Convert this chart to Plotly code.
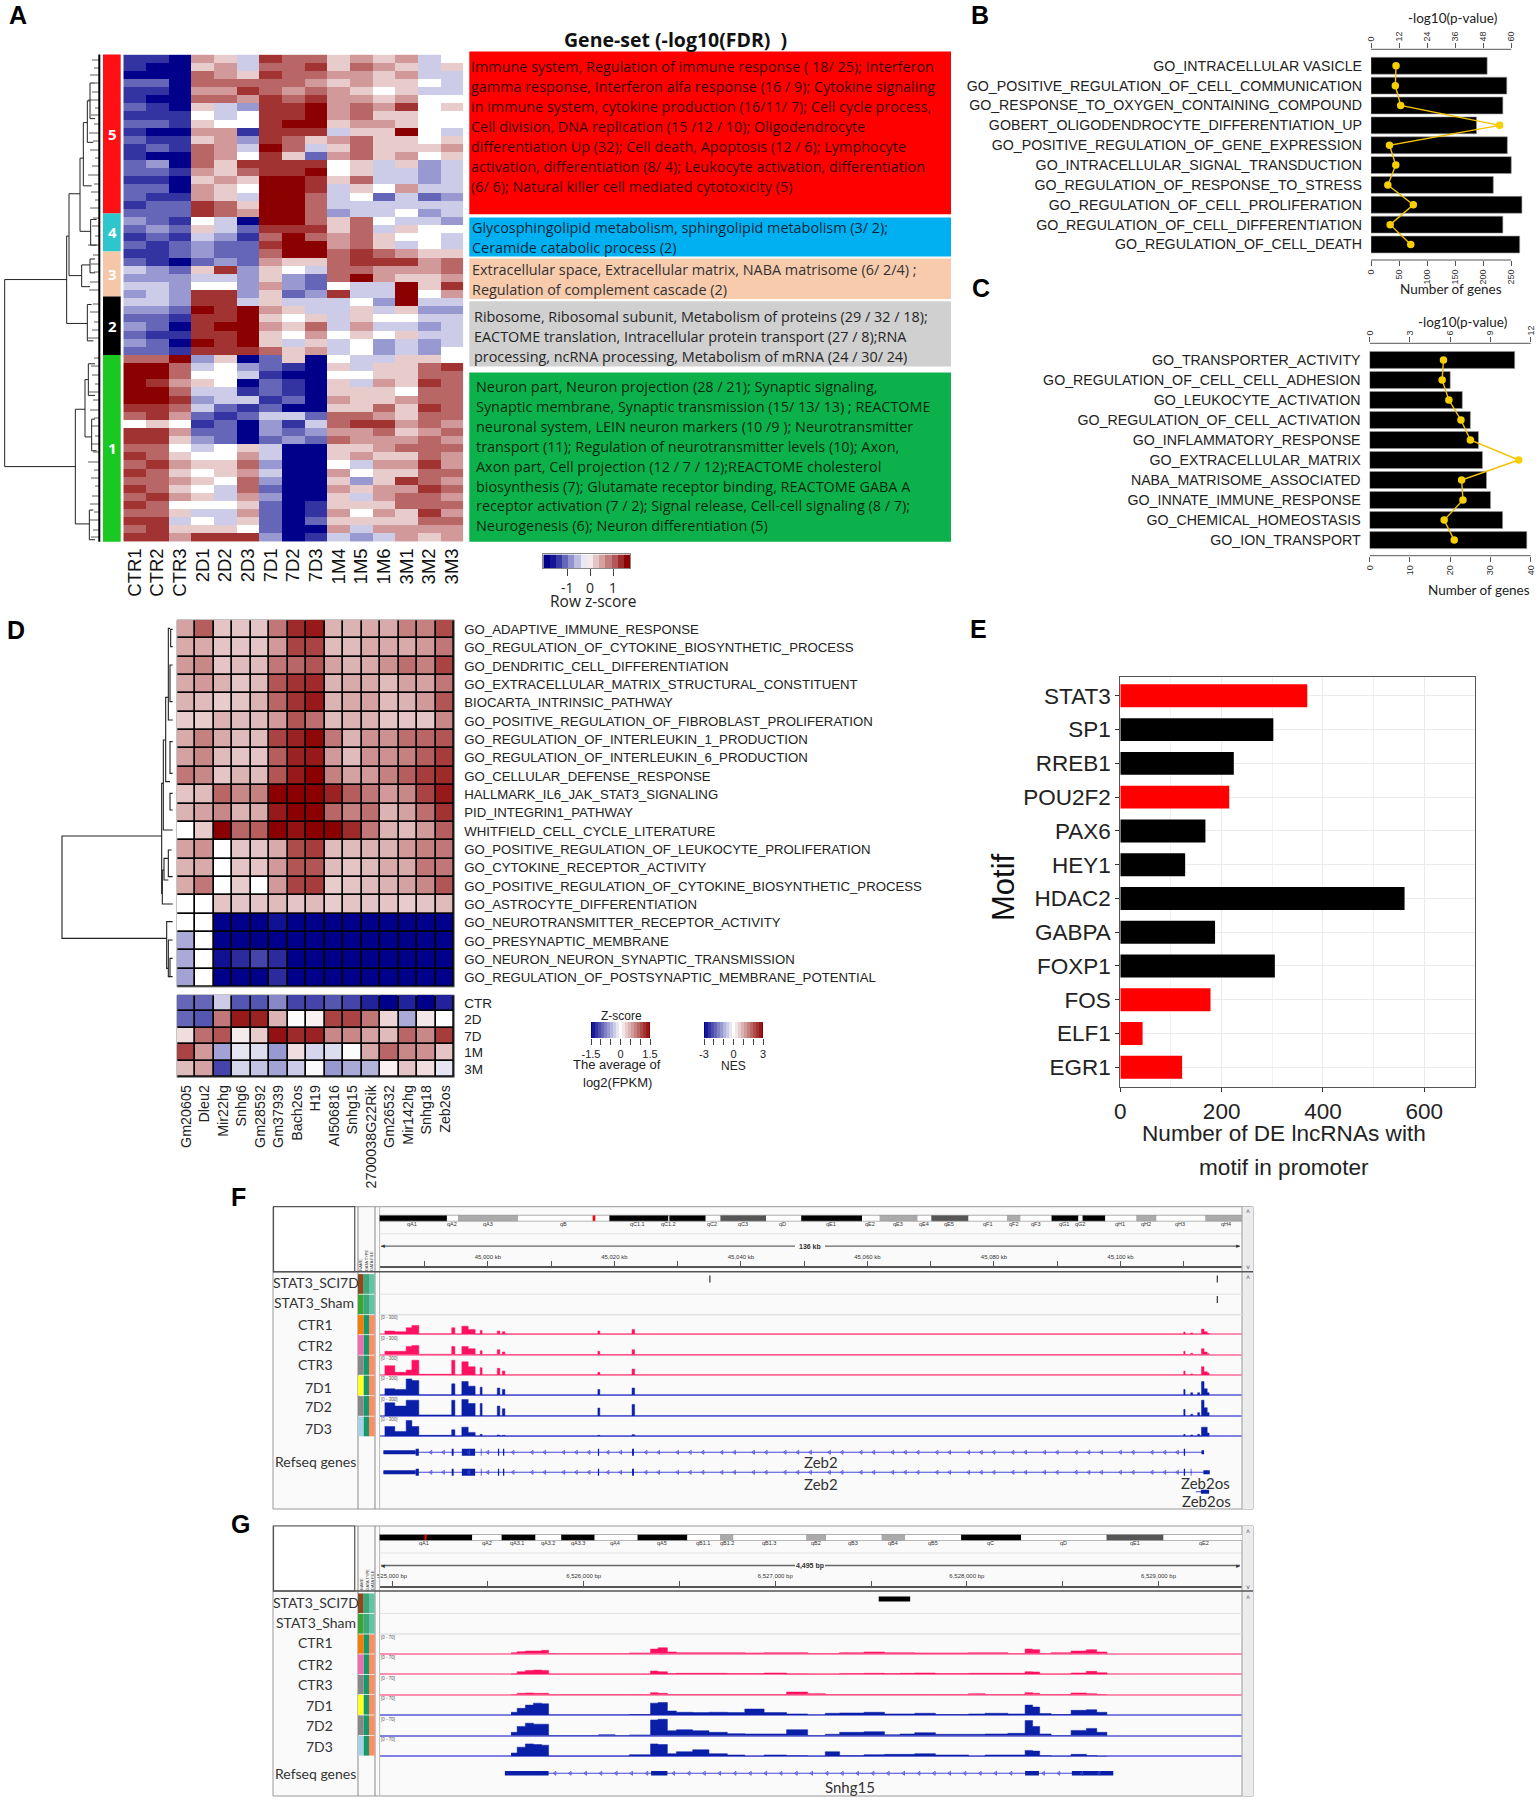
import plotly.graph_objects as go

W, H = 1538, 1800
ARIAL = "Liberation Sans"
NARROW = "Liberation Sans Narrow, Liberation Sans"
OPEN = "Open Sans"
LATO = "Lato"

# ---------- Panel A data ----------
a_cols = ["CTR1","CTR2","CTR3","2D1","2D2","2D3","7D1","7D2","7D3","1M4","1M5","1M6","3M1","3M2","3M3"]
a_z = [
[-4,-4,-5,2,1,-1,4,3,3,1,2,1,2,-1,0],[-4,-5,-5,1,2,-1,3,3,4,1,3,2,1,-1,1],[-5,-5,-5,3,2,1,4,3,3,2,2,1,2,-1,-1],
[-3,-3,-5,3,3,3,3,3,2,1,2,1,1,0,-1],[-4,-4,-5,2,2,4,3,2,3,2,1,0,1,-1,-1],[-4,-5,-5,3,3,2,4,3,4,2,2,1,2,0,0],
[-3,-4,-5,1,-1,-2,4,4,5,2,3,2,4,0,1],[-4,-4,-4,0,-1,0,4,4,5,2,3,1,1,0,0],[-3,-3,-4,1,0,0,4,5,5,1,2,2,1,0,0],
[-4,-5,-5,2,2,-4,4,4,4,-1,1,1,5,0,-1],[-3,-4,-4,1,2,-2,4,3,1,2,3,1,1,0,1],[-4,-3,-4,3,2,-1,5,3,-1,1,3,1,1,1,2],
[-4,-5,-5,3,2,0,4,1,-3,2,3,1,2,0,1],[-3,-2,-5,3,1,4,4,4,4,0,1,-1,1,-2,-1],[-3,-3,-4,2,1,3,4,4,5,0,1,-1,-1,-2,-1],
[-4,-4,-5,1,2,1,5,5,4,1,3,-1,-1,-2,-1],[-3,-3,-5,2,1,0,5,5,4,-1,1,0,2,-1,-1],[-3,-4,-4,2,1,-1,5,5,3,-1,0,-3,-1,-3,-2],
[-4,-3,-3,4,3,1,5,5,3,-1,-1,-1,-1,-1,-1],[-3,-3,-3,4,3,2,5,5,3,-2,-1,-1,0,-2,-1],[-2,-3,-4,0,-1,-5,5,5,3,1,3,0,-1,-1,-2],
[-3,-2,-3,1,-1,-3,4,4,4,1,3,-1,1,0,0],[-4,-3,-4,-1,-2,-4,3,5,3,2,3,1,0,0,-1],[-3,-4,-3,-2,-3,-3,4,5,5,2,3,1,-1,0,-1],
[-4,-4,-3,-2,-3,-3,3,5,5,3,4,3,2,1,1],[-3,-4,-5,-3,-2,-3,2,1,1,3,4,4,4,2,3],[-1,-2,-3,1,4,-2,1,0,-1,3,3,2,2,2,3],
[-2,-2,-2,-1,-1,-2,1,-2,-3,3,5,2,1,1,2],[-1,-1,-2,0,0,-2,2,-2,-3,0,-1,-1,5,1,4],[-2,-1,-2,4,4,-2,1,-3,-2,4,-1,-1,5,0,2],
[-1,-1,-2,4,4,-1,1,-1,-1,-1,0,-2,5,-1,-1],[-2,-2,-3,5,4,5,2,1,-1,-1,1,-1,1,-2,-2],[-3,-3,-4,4,4,5,1,0,1,-1,1,0,0,-1,-1],
[-2,-3,-5,4,5,5,2,1,3,-1,2,-1,-1,-2,-1],[-3,-4,-4,4,4,5,1,0,2,0,1,0,1,-1,-1],[-2,-3,-5,5,4,5,1,-1,1,-1,0,-2,-1,-2,-1],
[-3,-3,-4,4,4,4,3,1,2,-1,0,-2,-1,-2,0],[3,3,5,-2,1,-5,-3,1,-5,0,-1,-1,1,1,0],[5,5,3,-1,0,-2,-3,-4,-5,1,-1,1,1,3,4],
[5,5,3,0,0,-1,-4,-5,-5,0,0,1,1,3,3],[5,4,2,1,0,-5,-3,-4,-5,1,-1,2,1,4,3],[5,5,3,-1,-1,-4,-3,-4,-5,1,1,1,0,3,3],
[5,5,4,-2,-1,-1,-4,-3,-5,2,1,1,2,3,3],[4,4,3,-1,-3,-4,-3,-5,-5,1,1,3,1,4,3],[3,4,2,-3,-4,-3,-1,-1,-3,3,3,2,1,3,3],
[0,1,0,-4,-3,-5,-2,-4,-1,3,4,4,2,3,2],[4,4,2,-3,-3,-5,-2,-3,-2,2,2,3,1,2,3],[4,4,1,-2,-3,-5,-3,-2,-3,3,2,2,2,3,2],
[3,3,0,-1,0,1,-1,-5,-5,1,1,2,3,3,3],[4,3,1,0,0,2,-1,-5,-5,1,2,1,1,3,2],[3,4,2,1,1,3,-2,-5,-5,0,-1,2,2,4,2],
[4,3,1,0,1,2,-1,-5,-5,2,0,1,1,3,3],[3,3,2,1,0,3,-2,-5,-5,1,-2,1,4,3,2],[4,3,1,0,-1,3,-3,-5,-5,2,1,2,2,4,3],
[3,4,2,1,-1,2,-2,-5,-5,1,-1,2,3,3,2],[4,3,0,0,0,1,-3,-5,-4,1,1,1,3,3,3],[3,3,1,-1,-1,2,-3,-5,-4,2,0,2,1,4,2],
[4,4,-1,0,-1,1,-3,-5,-3,1,1,1,1,3,3],[3,4,1,1,1,0,-3,-5,-5,2,-1,2,2,2,2],[4,4,2,4,4,4,-2,-5,-4,-1,-2,-1,2,1,2],
]
a_key = [-2.0,-1.75,-1.5,-1.2,-0.9,-0.6,-0.3,0.0,0.25,0.5,0.75,1.0,1.3,1.6]
a_side_names = ["5","4","3","2","1"]
a_side_colors = ["#ff1015","#2cc6cc","#f6c6a8","#000000","#19c821"]
a_box_colors = ["#ff0000","#00b0f0","#f8cbad","#d0d0d0","#0db14b"]
a_box_text = [
 ["Immune system, Regulation of immune response ( 18/ 25); Interferon","gamma response, Interferon alfa response (16 / 9); Cytokine signaling","in immune system, cytokine production (16/11/ 7); Cell cycle process,","Cell division, DNA replication (15 /12 / 10); Oligodendrocyte","differentiation Up (32); Cell death, Apoptosis (12 / 6); Lymphocyte","activation, differentiation (8/ 4); Leukocyte activation, differentiation","(6/ 6); Natural killer cell mediated cytotoxicity (5)"],
 ["Glycosphingolipid metabolism, sphingolipid metabolism (3/ 2);","Ceramide catabolic process (2)"],
 ["Extracellular space, Extracellular matrix, NABA matrisome (6/ 2/4) ;","Regulation of complement cascade (2)"],
 ["Ribosome, Ribosomal subunit, Metabolism of proteins (29 / 32 / 18);","EACTOME translation, Intracellular protein transport (27 / 8);RNA","processing, ncRNA processing, Metabolism of mRNA (24 / 30/ 24)"],
 ["Neuron part, Neuron projection (28 / 21); Synaptic signaling,","Synaptic membrane, Synaptic transmission (15/ 13/ 13) ; REACTOME","neuronal system, LEIN neuron markers (10 /9 ); Neurotransmitter","transport (11); Regulation of neurotransmitter levels (10); Axon,","Axon part, Cell projection (12 / 7 / 12);REACTOME cholesterol","biosynthesis (7); Glutamate receptor binding, REACTOME GABA A","receptor activation (7 / 2); Signal release, Cell-cell signaling (8 / 7);","Neurogenesis (6); Neuron differentiation (5)"],
]
a_fringe_y = [60,68,75,83,92,100,108,115,124,133,141,150,158,166,175,184,192,200,208,218,226,236,245,255,264,272,282,290,304,312,322,330,338,358,366,375,384,392,400,410,418,426,436,444,452,462,470,478,486,496,504,512,520,530,537]
a_fringe_x = [92,94,90,95,92,88,95,91,94,89,93,90,95,92,88,94,91,95,90,93,92,95,88,93,91,94,90,89,93,90,94,92,88,94,91,92,95,89,93,90,94,92,95,91,93,88,94,91,95,92,90,94,89,93,91]

# ---------- Panels B, C data ----------
b_terms = ["GO_INTRACELLULAR VASICLE","GO_POSITIVE_REGULATION_OF_CELL_COMMUNICATION","GO_RESPONSE_TO_OXYGEN_CONTAINING_COMPOUND","GOBERT_OLIGODENDROCYTE_DIFFERENTIATION_UP","GO_POSITIVE_REGULATION_OF_GENE_EXPRESSION","GO_INTRACELLULAR_SIGNAL_TRANSDUCTION","GO_REGULATION_OF_RESPONSE_TO_STRESS","GO_REGULATION_OF_CELL_PROLIFERATION","GO_REGULATION_OF_CELL_DIFFERENTIATION","GO_REGULATION_OF_CELL_DEATH"]
b_genes = [207,242,235,188,243,250,218,269,235,265]
b_logp = [10.7,10.4,12.7,55,7.9,10.6,7.2,18.1,8.2,17]
b_ticks_bottom = [0,50,100,150,200,250]
b_ticks_top = [0,12,24,36,48,60]
c_terms = ["GO_TRANSPORTER_ACTIVITY","GO_REGULATION_OF_CELL_CELL_ADHESION","GO_LEUKOCYTE_ACTIVATION","GO_REGULATION_OF_CELL_ACTIVATION","GO_INFLAMMATORY_RESPONSE","GO_EXTRACELLULAR_MATRIX","NABA_MATRISOME_ASSOCIATED","GO_INNATE_IMMUNE_RESPONSE","GO_CHEMICAL_HOMEOSTASIS","GO_ION_TRANSPORT"]
c_genes = [36,20,23,25,27,28,29,30,33,39]
c_logp = [5.5,5.4,5.9,6.8,7.5,11.1,6.85,6.95,5.55,6.3]
c_ticks_bottom = [0,10,20,30,40]
c_ticks_top = [0,3,6,9,12]

# ---------- Panel D data ----------
d_genes = ["Gm20605","Dleu2","Mir22hg","Snhg6","Gm28592","Gm37939","Bach2os","H19","AI506816","Snhg15","2700038G22Rik","Gm26532","Mir142hg","Snhg18","Zeb2os"]
d_sets = ["GO_ADAPTIVE_IMMUNE_RESPONSE","GO_REGULATION_OF_CYTOKINE_BIOSYNTHETIC_PROCESS","GO_DENDRITIC_CELL_DIFFERENTIATION","GO_EXTRACELLULAR_MATRIX_STRUCTURAL_CONSTITUENT","BIOCARTA_INTRINSIC_PATHWAY","GO_POSITIVE_REGULATION_OF_FIBROBLAST_PROLIFERATION","GO_REGULATION_OF_INTERLEUKIN_1_PRODUCTION","GO_REGULATION_OF_INTERLEUKIN_6_PRODUCTION","GO_CELLULAR_DEFENSE_RESPONSE","HALLMARK_IL6_JAK_STAT3_SIGNALING","PID_INTEGRIN1_PATHWAY","WHITFIELD_CELL_CYCLE_LITERATURE","GO_POSITIVE_REGULATION_OF_LEUKOCYTE_PROLIFERATION","GO_CYTOKINE_RECEPTOR_ACTIVITY","GO_POSITIVE_REGULATION_OF_CYTOKINE_BIOSYNTHETIC_PROCESS","GO_ASTROCYTE_DIFFERENTIATION","GO_NEUROTRANSMITTER_RECEPTOR_ACTIVITY","GO_PRESYNAPTIC_MEMBRANE","GO_NEURON_NEURON_SYNAPTIC_TRANSMISSION","GO_REGULATION_OF_POSTSYNAPTIC_MEMBRANE_POTENTIAL"]
d_nes = [
[1.1,1.9,0.7,0.7,0.7,1.6,2.5,2.7,0.9,0.9,1.0,1.0,1.5,1.5,2.1],
[1.0,1.0,0.7,0.7,0.7,1.2,2.2,2.2,0.8,0.8,1.0,1.0,1.0,1.2,1.6],
[1.2,1.4,0.7,0.8,0.8,1.6,1.8,2.0,1.1,0.9,1.0,1.3,1.7,1.5,2.2],
[1.0,1.2,0.9,0.7,0.8,2.0,2.4,2.5,0.9,1.0,1.0,0.8,1.1,1.1,1.6],
[0.9,0.8,0.6,0.7,0.9,1.8,2.4,2.7,0.9,1.0,1.1,0.8,0.9,1.2,2.0],
[0.6,0.6,0.9,0.8,0.8,1.2,2.0,1.7,0.8,0.9,0.9,0.7,0.7,0.7,1.4],
[1.0,1.5,1.0,0.8,0.8,2.2,2.6,2.9,1.6,0.9,1.3,1.3,1.7,1.8,2.0],
[1.1,1.4,0.8,0.7,0.7,1.9,2.6,2.7,1.2,0.8,1.3,1.3,1.5,1.9,2.3],
[1.6,1.4,0.7,0.9,0.8,2.0,2.7,3.0,1.5,1.1,1.2,1.5,1.9,2.3,2.5],
[0.7,0.8,1.8,1.4,1.5,3.0,3.0,3.0,2.6,1.9,1.6,1.2,1.4,2.2,2.7],
[0.9,1.1,1.4,0.9,1.0,2.7,3.0,3.0,1.8,1.5,1.7,0.9,1.1,1.7,2.4],
[0,0.6,3,1.8,1.9,3,2.8,3,3,2.5,1.6,0.9,0.8,1.2,1.9],
[1.1,1.3,0,0.7,0.7,1.0,2.1,2.3,0.8,0.8,0.9,0.9,1.2,1.5,1.6],
[0.9,1.0,0,0.7,0.7,1.2,2.0,2.0,0.8,0.7,0.8,1.0,1.0,1.6,1.6],
[1.0,1.6,0,0.6,0,1.2,2.2,2.3,0.6,0.7,0.8,0.9,1.1,1.4,2.0],
[0,0,0.7,0.7,0.7,0.8,0.7,0.8,0.6,0.7,0.7,0.7,0.6,0.7,0.8],
[0,0,-3,-3,-3,-2.8,-3,-3,-3,-3,-3,-3,-3,-3,-3],
[-1,0,-3,-3,-3,-3,-3,-3,-3,-3,-3,-3,-3,-3,-3],
[-1,0,-2.8,-2.5,-2.2,-2.5,-3,-3,-3,-3,-3,-3,-3,-3,-3],
[-1.1,0,-3,-3,-3,-2.5,-3,-3,-3,-3,-3,-3,-3,-3,-3],
]
d_times = ["CTR","2D","7D","1M","3M"]
d_fpkm = [
[-0.9,-0.9,-0.3,-1.0,-1.0,-0.7,-1.1,-1.1,-1.0,-1.1,-1.3,-1.5,-1.3,-1.5,-1.3],
[-0.9,-1.0,0.8,1.35,1.3,0.45,0.02,0.08,1.1,1.1,0.8,0.25,-0.5,0.15,0],
[0.2,0.85,1.0,0.12,0.3,1.4,1.25,1.3,0.7,0.7,0.55,0.4,0.9,0.7,1.15],
[1.1,0.6,-0.55,-0.15,-0.2,-0.6,0.2,-0.25,-0.2,-0.02,0.5,0.9,0.7,0.65,0.35],
[0.4,0.55,-1.1,-0.25,-0.35,-0.55,-0.3,-0.03,-0.6,-0.5,-0.45,0.08,0.35,0.2,-0.15],
]
key_z = [-1.5,-1.35,-1.2,-1.05,-0.9,-0.75,-0.6,-0.45,-0.3,-0.15,0,0.15,0.3,0.45,0.6,0.75,0.9,1.05,1.2,1.35,1.5]
key_ticks = [-1.5,-1,-0.5,0,0.5,1,1.5]
key_labels = ["-1.5","","","0","","","1.5"]
nes_ticks = [-3,-2,-1,0,1,2,3]
nes_labels = ["-3","","","0","","","3"]

# ---------- Panel E data ----------
e_motifs = ["STAT3","SP1","RREB1","POU2F2","PAX6","HEY1","HDAC2","GABPA","FOXP1","FOS","ELF1","EGR1"]
e_counts = [369,302,224,215,168,128,561,187,305,178,44,122]
e_colors = ["#ff0000","#000000","#000000","#ff0000","#000000","#000000","#000000","#000000","#000000","#ff0000","#ff0000","#ff0000"]

# ---------- Panel F data (kb on chr2) ----------
track_names = ["CTR1","CTR2","CTR3","7D1","7D2","7D3"]
track_fill = ["#ff1060","#ff1060","#ff1060","#0a1fa8","#0a1fa8","#0a1fa8"]
track_zero = ["#ff8fb0","#ff8fb0","#ff8fb0","#8080e0","#8080e0","#8080e0"]
f_edges = [44983.7,44985.3,44987.1,44988.0,44989.1,44994.3,44994.8,44995.9,44996.9,44998.0,44998.8,44999.1,45001.5,45001.9,45002.3,45002.7,45017.4,45017.7,45022.8,45023.2,45110.0,45110.2,45111.1,45111.4,45112.2,45112.5,45112.8,45113.2,45113.7,45114.0]
f_tracks = {
"CTR1":[10,8,20,27,1,20,0,25,15,0,12,0,10,0,8,0,10,0,15,0,7,0,4,0,0,0,16,8,3],
"CTR2":[10,10,25,28,1,25,0,25,18,0,12,0,15,0,8,0,10,0,15,0,10,0,4,0,0,0,18,8,3],
"CTR3":[28,8,15,45,2,45,0,40,25,0,22,0,20,0,12,0,8,0,18,0,12,0,3,0,0,0,25,10,6],
"7D1":[20,18,50,45,1,35,0,42,28,0,25,0,22,0,18,0,18,0,22,0,18,0,8,0,8,0,42,20,8],
"7D2":[40,30,48,48,3,48,0,50,38,0,38,0,30,0,22,0,24,0,35,0,20,0,5,0,10,0,48,25,10],
"7D3":[30,15,48,30,3,20,0,28,12,0,6,0,4,0,3,0,3,0,5,0,6,0,4,0,6,0,28,28,10],
}
f_ticks = [44990,45000,45010,45020,45030,45040,45050,45060,45070,45080,45090,45100,45110,45120]
f_ticklabels = ["","45,000 kb","","45,020 kb","","45,040 kb","","45,060 kb","","45,080 kb","","45,100 kb","","45"]
f_stat3_kb = [45035.1,45115.3,45115.3]
f_stat3_row = [1279,1279,1299.5]
f_intron_start = [44983.5,44983.5,45111.9]
f_intron_end = [45113.2,45114.1,45114.0]
f_intron_row = [1452.3,1472.3,1491.7]
f_exon_start = [44983.5,44988.6,44994.3,44995.9,44998.9,45001.6,45002.4,45017.4,45022.8,45110.0,45112.8,44983.5,44988.6,44994.3,44995.9,44998.9,45001.6,45002.4,45017.4,45022.8,45110.0,45111.1,45113.1,45112.7]
f_exon_end = [44988.6,44989.1,44994.6,44998.0,44999.0,45001.8,45002.6,45017.6,45023.1,45110.2,45113.2,44988.6,44989.1,44994.6,44998.0,44999.0,45001.8,45002.6,45017.6,45023.1,45110.2,45111.2,45114.1,45114.0]
f_exon_row = [1452.3]*11 + [1472.3]*12 + [1491.7]
f_exon_h = [4,7,7,7,7,7,7,7,7,7,4,4,7,7,7,7,7,7,7,7,7,7,4,4]
f_marks = [44991,44993,44997,45000,45004,45007,45009,45012,45014,45016,45019,45021,45025,45027,45030,45032,45034,45037,45039,45042,45044,45047,45049,45051,45054,45056,45059,45061,45064,45066,45068,45071,45073,45076,45078,45080,45083,45085,45088,45090,45093,45095,45097,45100,45102,45105,45107,45109]

# ---------- Panel G data (bp on chr11) ----------
g_edges = [6525621,6525653,6525696,6525738,6525781,6525817,6526079,6526164,6526239,6526349,6526388,6526437,6526484,6526569,6526654,6526750,6526841,6526942,6527059,6527169,6527261,6527336,6527463,6527570,6527651,6527728,6527836,6528009,6528095,6528214,6528304,6528343,6528380,6528440,6528544,6528624,6528678,6528731]
g_tracks = {
"CTR1":[3,6,8,8,10,0,0,0,2,14,18,5,3,3,3,3,2,3,3,0,0,3,5,3,3,2,2,3,3,0,14,12,0,3,8,12,5],
"CTR2":[1,8,12,13,12,0,0,0,0,10,8,2,3,3,3,2,2,4,1,0,0,2,3,2,3,4,2,3,3,3,8,7,0,0,4,9,5],
"CTR3":[0,4,5,4,4,0,0,0,0,6,4,0,0,0,0,0,0,0,8,3,0,0,0,0,0,0,0,3,0,0,6,4,0,0,5,3,0],
"7D1":[8,20,30,36,34,0,0,0,1,36,38,12,8,7,8,7,18,7,3,0,5,6,8,3,3,5,1,3,5,3,30,24,4,1,14,16,8],
"7D2":[10,28,38,35,35,0,3,0,2,48,50,15,18,15,10,6,5,5,18,0,4,10,12,3,5,9,4,4,5,7,46,28,5,0,16,22,10],
"7D3":[10,28,38,36,34,0,0,0,5,38,36,8,14,20,8,4,0,4,2,0,14,2,5,6,6,8,4,0,4,4,18,16,2,0,6,2,0],
}
g_ticks = [6525000,6525500,6526000,6526500,6527000,6527500,6528000,6528500,6529000]
g_ticklabels = ["525,000 bp","","6,526,000 bp","","6,527,000 bp","","6,528,000 bp","","6,529,000 bp"]
g_exon_start = [6525589,6526352,6528304,6528548]
g_exon_end = [6525817,6526437,6528376,6528764]
g_marks = [6525850,6525930,6526010,6526090,6526170,6526250,6526330,6526470,6526550,6526630,6526710,6526790,6526870,6526950,6527030,6527110,6527190,6527270,6527350,6527430,6527510,6527590,6527670,6527750,6527830,6527910,6527990,6528070,6528150,6528230,6528400,6528480,6528600,6528690]

# ---------- chrome lists ----------
f_bands_l = [(293,458,"#000"),(458,485,"#fff"),(485,632,"#aaa"),(632,815,"#fff"),(815,822,"#f00"),(822,856,"#fff"),(856,1000,"#000"),(1003,1092,"#000"),(1092,1128,"#fff"),(1128,1240,"#555"),(1240,1326,"#fff"),(1326,1475,"#000"),(1475,1518,"#fff"),(1518,1568,"#aaa")]
f_bands_r = [(-4,67,"#aaa"),(67,100,"#fff"),(100,190,"#555"),(190,283,"#fff"),(283,316,"#aaa"),(316,391,"#fff"),(391,456,"#000"),(456,466,"#fff"),(466,521,"#000"),(521,596,"#fff"),(596,645,"#aaa"),(645,763,"#fff"),(763,852,"#aaa")]
f_blabels_l = [("qA1",372),("qA2",470),("qA3",558),("qB",743),("qC1.1",925),("qC1.2",1000),("qC2",1108),("qC3",1183),("qD",1280),("qE1",1398),("qE2",1495)]
f_blabels_r = [("qE3",20),("qE4",82),("qE5",143),("qF1",235),("qF2",298),("qF3",352),("qG1",422),("qG2",460),("qH1",557),("qH2",620),("qH3",703),("qH4",812)]
g_bands_l = [(293,520,"#000"),(403,408,"#f00"),(520,592,"#fff"),(592,675,"#000"),(675,738,"#fff"),(738,820,"#000"),(820,925,"#fff"),(925,1047,"#000"),(1047,1127,"#fff"),(1127,1160,"#aaa"),(1160,1338,"#fff"),(1338,1387,"#aaa"),(1387,1523,"#fff"),(1523,1568,"#aaa")]
g_bands_r = [(-4,37,"#aaa"),(37,172,"#fff"),(172,317,"#000"),(317,524,"#fff"),(524,662,"#555"),(662,852,"#fff")]
g_blabels_l = [("qA1",403),("qA2",555),("qA3.1",630),("qA3.2",705),("qA3.3",778),("qA4",870),("qA5",985),("qB1.1",1086),("qB1.2",1143),("qB1.3",1247),("qB2",1361),("qB3",1453),("qB4",1550)]
g_blabels_r = [("qB5",103),("qC",243),("qD",419),("qE1",592),("qE2",760)]
col1_colors = ["#8a4a20","#3aa535","#f57c00","#f06ab0","#888888","#ffff20","#888888","#a8cfe8"]

# ---------- helpers ----------
layout = dict(width=W, height=H, margin=dict(l=0, r=0, t=0, b=0), paper_bgcolor="white", template="none",
              plot_bgcolor="rgba(0,0,0,0)", showlegend=False, font=dict(family=ARIAL, color="#222"))
traces, shapes, annos = [], [], []
_n = [1]

def new_axes(xr, yr, xa=None, ya=None):
    _n[0] += 1
    n = _n[0]
    x = dict(domain=[xr[0]/W, xr[1]/W], anchor=f"y{n}", showgrid=False, zeroline=False, automargin=False)
    y = dict(domain=[1-yr[1]/H, 1-yr[0]/H], anchor=f"x{n}", showgrid=False, zeroline=False, automargin=False)
    x.update(xa or {}); y.update(ya or {})
    layout[f"xaxis{n}"] = x
    layout[f"yaxis{n}"] = y
    return f"x{n}", f"y{n}"

def text(x, y, s, size=12, family=ARIAL, color="#222", anchor="center", angle=0, bold=False):
    annos.append(dict(x=x/W, y=1-y/H, xref="paper", yref="paper", text=f"<b>{s}</b>" if bold else s, showarrow=False,
                      font=dict(size=size, family=family, color=color), xanchor=anchor, yanchor="middle",
                      textangle=angle, borderpad=0, borderwidth=0))

def rect(x0, y0, x1, y1, fill=None, line=None, lw=1, layer="above"):
    shapes.append(dict(type="rect", xref="paper", yref="paper", x0=x0/W, x1=x1/W, y0=1-y0/H, y1=1-y1/H,
                       fillcolor=fill or "rgba(0,0,0,0)", line=dict(color=line or "rgba(0,0,0,0)", width=lw if line else 0), layer=layer))

def hline(x0, x1, y, color="#888", lw=1, layer="above"):
    shapes.append(dict(type="line", xref="paper", yref="paper", x0=x0/W, x1=x1/W, y0=1-y/H, y1=1-y/H, line=dict(color=color, width=lw), layer=layer))

def vline(x, y0, y1, color="#888", lw=1, layer="above"):
    shapes.append(dict(type="line", xref="paper", yref="paper", x0=x/W, x1=x/W, y0=1-y0/H, y1=1-y1/H, line=dict(color=color, width=lw), layer=layer))

layout["xaxis"] = dict(domain=[0, 1], range=[0, W], visible=False, fixedrange=True)
layout["yaxis"] = dict(domain=[0, 1], range=[H, 0], visible=False, fixedrange=True)

def dendro(nodes, fx, fy, lw=1.0, color="#222"):
    xs, ys = [], []
    for x, yt, yb, xt, xb in nodes:
        xs += [fx(xt), fx(x), fx(x), fx(xb), None]
        ys += [fy(yt), fy(yt), fy(yb), fy(yb), None]
    traces.append(go.Scatter(x=xs, y=ys, mode="lines", line=dict(color=color, width=lw), xaxis="x", yaxis="y", hoverinfo="skip"))

BWR = [[0, "#00008b"], [0.5, "#ffffff"], [1, "#8b0000"]]

# ---------- panel letters ----------
for s, x, y in [("A",18,15),("B",980,15),("C",981,288),("D",16,630),("E",978,629),("F",238,1197),("G",240,1524)]:
    text(x, y, s, size=25, bold=True, color="#000")

# ---------- A ----------
xa, ya = new_axes((123.3, 463.3), (54.6, 541.7),
    dict(type="category", categoryorder="array", categoryarray=a_cols, tickmode="array", tickvals=a_cols, ticktext=a_cols, tickangle=-90, ticks="", ticklabelstandoff=2,
         tickfont=dict(size=18.5, family=ARIAL, color="#111")),
    dict(range=[len(a_z)-0.5, -0.5], showticklabels=False, ticks=""))
traces.append(go.Heatmap(z=a_z, x=a_cols, y=list(range(len(a_z))), colorscale=BWR, zmin=-5, zmax=5, showscale=False, xaxis=xa, yaxis=ya, hoverinfo="skip"))
side_edges = [54.6, 213.5, 251.5, 296.6, 355, 541.7]
for i, nm in enumerate(a_side_names):
    rect(103, side_edges[i], 120.7, side_edges[i+1], fill=a_side_colors[i])
    text(112, (side_edges[i]+side_edges[i+1])/2, nm, size=15, color="#fff", bold=True, family=OPEN)
box_edges = [(51.4,214.3),(217.5,256.6),(258.6,299),(301.3,366.5),(372.5,541.7)]
box_text_y = [66.4, 227.8, 269.7, 316.3, 386.3]
box_text_x = [471, 471.7, 471.7, 473.7, 476.3]
box_text_c = ["rgba(50,0,0,0.98)", "rgba(0,25,45,0.95)", "#333333", "#262626", "rgba(0,35,12,0.98)"]
for i, lines in enumerate(a_box_text):
    rect(469.3, box_edges[i][0], 951, box_edges[i][1], fill=a_box_colors[i], layer="below")
    for j, ln in enumerate(lines):
        text(box_text_x[i], box_text_y[i] + j*19.95, ln, size=14.4, family=OPEN, color=box_text_c[i], anchor="left")
text(675, 39.5, "Gene-set (-log10(FDR)  )", size=19.5, family=OPEN, color="#111", bold=True)
dendro([(14,707,1180,200,226),(200,597,818,207,262),(207,490,697,240,245),(240,400,585,250,272),(250,310,470,262,275),
        (262,255,360,270,280),(270,210,300,285,285),(272,555,620,290,290),(245,670,725,270,270),(270,655,690,285,285),
        (262,770,862,275,280),(226,1035,1325,255,268),(255,960,1105,265,275),(265,920,1000,285,285),(275,1060,1140,285,290),
        (268,1290,1365,280,285)], lambda v: v/3, lambda v: v/2.529, lw=1.0)
fx, fy = [], []
for yy, xx in zip(a_fringe_y, a_fringe_x):
    fx += [xx, 99.5, None]; fy += [yy, yy, None]
traces.append(go.Scatter(x=fx, y=fy, mode="lines", line=dict(color="#333", width=0.8), xaxis="x", yaxis="y", hoverinfo="skip"))
vline(99.3, 54.6, 541.7, color="#000", lw=2)
# key
xa, ya = new_axes((543.3, 630), (554.4, 568),
    dict(range=[-2.04, 1.74], tickvals=[-1,0,1], ticktext=["-1","0","1"], ticks="outside", ticklen=7, tickcolor="#444",
         tickfont=dict(size=14, family=OPEN, color="#222"), showline=True, linecolor="#888", mirror=True),
    dict(showticklabels=False, ticks="", showline=True, linecolor="#888", mirror=True))
traces.append(go.Heatmap(z=[a_key], x=[-1.905,-1.635,-1.365,-1.095,-0.825,-0.555,-0.285,-0.015,0.255,0.525,0.795,1.065,1.335,1.605], y=[0],
                         colorscale=BWR, zmin=-1.9, zmax=1.6, showscale=False, xaxis=xa, yaxis=ya, hoverinfo="skip"))
text(593, 601, "Row z-score", size=15.5, family=OPEN, color="#222")

# ---------- B, C ----------
def go_panel(terms, genes, logp, xdom, ydom, xmax, topmax, tbot, ttop, standoff_x):
    xa, ya = new_axes(xdom, ydom,
        dict(range=[0, xmax], tickvals=tbot, ticks="outside", ticklen=5, tickcolor="#555", tickangle=-90,
             tickfont=dict(size=9, family=ARIAL, color="#333")),
        dict(type="category", categoryorder="array", categoryarray=terms, range=[9.78, -0.83], ticks="", ticklabelstandoff=standoff_x,
             tickfont=dict(size=14.2, family=ARIAL, color="#222")))
    n = _n[0]
    _n[0] += 1
    m = _n[0]
    layout[f"xaxis{m}"] = dict(domain=[xdom[0]/W, xdom[1]/W], overlaying=f"x{n}", anchor=ya, side="top", range=[0, topmax], tickvals=ttop,
                               ticks="outside", ticklen=5, tickcolor="#555", tickangle=-90, showgrid=False, zeroline=False, automargin=False,
                               tickfont=dict(size=9, family=ARIAL, color="#333"))
    traces.append(go.Bar(x=genes, y=terms, orientation="h", width=0.85, marker=dict(color="#000", line=dict(color="#999", width=0.6)), xaxis=xa, yaxis=ya, hoverinfo="skip"))
    traces.append(go.Scatter(x=logp, y=terms, mode="lines+markers", line=dict(color="#f2c200", width=1.4), marker=dict(color="#f7cf00", size=7.5), xaxis=f"x{m}", yaxis=ya, hoverinfo="skip"))
    for v, yv in [(tbot[-1], 0), (ttop[-1], 1)]:
        ref = xa if yv == 0 else f"x{m}"
        shapes.append(dict(type="line", xref=ref, x0=0, x1=v, yref=f"{ya} domain", y0=yv, y1=yv, line=dict(color="#555", width=1)))

go_panel(b_terms, b_genes, b_logp, (1371, 1530), (49.3, 260), 283.4, 68.0, b_ticks_bottom, b_ticks_top, 8)
text(1452, 18.3, "-log10(p-value)", size=13.5, family=LATO)
text(1450.6, 289, "Number of genes", size=13.5, family=LATO)
go_panel(c_terms, c_genes, c_logp, (1369.6, 1530.8), (343.3, 555.7), 40, 12, c_ticks_bottom, c_ticks_top, 8)
text(1462.6, 321.7, "-log10(p-value)", size=13.5, family=LATO)
text(1478.7, 590, "Number of genes", size=13.5, family=LATO)

# ---------- D ----------
xa, ya = new_axes((177, 454.3), (620, 987),
    dict(showticklabels=False, ticks="", range=[-0.5, 14.5]),
    dict(side="right", range=[19.5, -0.5], tickvals=list(range(20)), ticktext=d_sets, ticks="", ticklabelstandoff=9,
         tickfont=dict(size=13.2, family=ARIAL, color="#222")))
rect(177, 620, 454.3, 987, fill="#000", line="#888", lw=1, layer="below")
traces.append(go.Heatmap(z=d_nes, x=list(range(15)), y=list(range(20)), colorscale=BWR, zmin=-3, zmax=3, xgap=1.7, ygap=1.7, showscale=False, xaxis=xa, yaxis=ya, hoverinfo="skip"))
xa, ya = new_axes((177, 454.3), (995, 1077.3),
    dict(type="category", categoryorder="array", categoryarray=d_genes, tickmode="array", tickvals=d_genes, ticktext=d_genes, tickangle=-90, ticks="", ticklabelstandoff=4,
         tickfont=dict(size=14.3, family=ARIAL, color="#222")),
    dict(side="right", range=[4.5, -0.5], tickvals=list(range(5)), ticktext=d_times, ticks="", ticklabelstandoff=9,
         tickfont=dict(size=13.5, family=NARROW, color="#222")))
rect(177, 995, 454.3, 1077.3, fill="#000", line="#888", lw=1, layer="below")
traces.append(go.Heatmap(z=d_fpkm, x=d_genes, y=list(range(5)), colorscale=BWR, zmin=-1.5, zmax=1.5, xgap=1.7, ygap=1.7, showscale=False, xaxis=xa, yaxis=ya, hoverinfo="skip"))
dendro([(186,678,985,485,500),(485,520,850,490,487),(487,780,882,492,518),(492,745,810,505,505),(505,720,800,515,518),
        (490,390,660,497,518),(497,262,515,505,510),(505,55,330,510,518),(510,395,490,518,518),(510,550,600,518,518),
        (512,58,110,518,518),(510,165,275,518,518),(500,935,1075,518,505),(505,990,1100,518,510),(510,1045,1100,518,518)],
       lambda v: v/3, lambda v: 610+v/3, lw=1.1, color="#222")
# keys
xa, ya = new_axes((591, 650), (1022, 1038),
    dict(range=[-1.5, 1.5], tickvals=key_ticks, ticktext=key_labels, ticks="outside", ticklen=6, tickcolor="#444", tickfont=dict(size=11, family=NARROW)),
    dict(showticklabels=False, ticks=""))
traces.append(go.Heatmap(z=[key_z], x=key_z, y=[0], colorscale=BWR, zmin=-1.5, zmax=1.5, showscale=False, xaxis=xa, yaxis=ya, hoverinfo="skip"))
xa, ya = new_axes((704, 763), (1022, 1038),
    dict(range=[-3, 3], tickvals=nes_ticks, ticktext=nes_labels, ticks="outside", ticklen=6, tickcolor="#444", tickfont=dict(size=11, family=NARROW)),
    dict(showticklabels=False, ticks=""))
traces.append(go.Heatmap(z=[key_z], x=[v*2 for v in key_z], y=[0], colorscale=BWR, zmin=-1.5, zmax=1.5, showscale=False, xaxis=xa, yaxis=ya, hoverinfo="skip"))
text(621, 1016, "Z-score", size=12, family=NARROW)
text(617, 1064, "The average of", size=13, family=NARROW)
text(617, 1082, "log2(FPKM)", size=13, family=NARROW)
text(733, 1066, "NES", size=12, family=NARROW)

# ---------- E ----------
xa, ya = new_axes((1120.3, 1475), (676.6, 1086.5),
    dict(range=[0, 700], tickvals=[0,200,400,600], ticks="outside", ticklen=4, tickcolor="#333", showgrid=True, gridcolor="#ebebeb", gridwidth=1.2,
         minor=dict(tickvals=[100,300,500,700], showgrid=True, gridcolor="#f2f2f2", gridwidth=0.8, ticks=""),
         tickfont=dict(size=22.5, family=ARIAL, color="#222"), showline=True, linecolor="#555", mirror=True),
    dict(type="category", categoryorder="array", categoryarray=e_motifs, tickmode="array", tickvals=e_motifs, ticktext=e_motifs, range=[11.57, -0.57], ticks="outside", ticklen=4, tickcolor="#333",
         showgrid=True, gridcolor="#ebebeb", gridwidth=1.2, tickfont=dict(size=22.5, family=ARIAL, color="#222"), showline=True, linecolor="#555", mirror=True))
traces.append(go.Bar(x=e_counts, y=e_motifs, orientation="h", width=0.68, marker=dict(color=e_colors, line=dict(width=0)), xaxis=xa, yaxis=ya, hoverinfo="skip"))
text(1003.5, 887.5, "Motif", size=31, angle=-90, color="#111")
text(1283.6, 1133.5, "Number of DE lncRNAs with", size=22.6, color="#222")
text(1284, 1167.5, "motif in promoter", size=22.6, color="#222")

# ---------- F, G (genome browser) ----------
def igv_frame(top, bottom, bands_l, bands_r, labels_l, labels_r, span, baselines, row_labels, scale):
    rect(273, top, 1253, bottom, fill="#fafafa", line="#999", lw=1, layer="below")
    rect(273.5, top, 354.7, top+65, fill="#ffffff", line="#555", lw=1.2, layer="below")
    vline(358, top, bottom, "#888"); vline(375, top, bottom, "#888"); vline(379.6, top, bottom, "#bbb")
    hline(379.6, 1242, top+9, "#999"); hline(379.6, 1242, top+27, "#e4e4e4")
    vline(1242, top, bottom, "#aaa", 1.2)
    rect(1242, top, 1253, bottom, fill="#ececec", layer="below")
    for a, b, c in bands_l:
        rect(max(260+a/2.45, 379.6), top+8.5, 260+b/2.45, top+14.5, fill=c)
    for a, b, c in bands_r:
        rect(890+a/2.42, top+8.5, 890+b/2.42, top+14.5, fill=c)
    hline(379.6, 1242, top+8.5, "#999", 0.7); hline(379.6, 1242, top+14.5, "#999", 0.7)
    for s, z in labels_l:
        text(260+z/2.45, top+17, s, size=5.5, color="#333", family=NARROW)
    for s, z in labels_r:
        text(890+z/2.42, top+17, s, size=5.5, color="#333", family=NARROW)
    hline(381, 795, top+39.5, "#666", 1.3); hline(825, 1240, top+39.5, "#666", 1.3)
    text(810, top+39.5, span, size=7, bold=True, color="#333")
    text(383, top+39.5, "◄", size=6, color="#333"); text(1238, top+39.5, "►", size=6, color="#333")
    hline(273, 1253, top+65, "#555", 1.6)
    row_tops = [top+67, top+87.5, top+108, top+128, top+148.5, top+168.5, top+189, top+209.5, top+230]
    for i in range(8):
        rect(358, row_tops[i]+0.4, 363.7, row_tops[i+1]-0.4, fill=col1_colors[i])
        rect(363.7, row_tops[i]+0.4, 369, row_tops[i+1]-0.4, fill="#3aa878" if i < 2 else "#16996a")
        rect(369, row_tops[i]+0.4, 374.7, row_tops[i+1]-0.4, fill="#66c2a5" if i < 2 else "#fc8d62")
    hline(379.6, 1242, row_tops[1], "#e2e2e6"); hline(379.6, 1242, row_tops[2], "#e2e2e6", 1.4)
    for s, xx, yy in [("NAME",361,top+58),("DATA TYPE",366.5,top+54),("DATA FILE",372,top+54)]:
        text(xx, yy, s, size=4, angle=-90, color="#444")
    for s, yy in [("˄",top+5),("˅",top+61),("˄",top+71)]:
        text(1247.5, yy, s, size=7, color="#555")
    for b in baselines:
        text(381, b-17, scale, size=4.5, color="#555", anchor="left")
    for s, xx, yy in row_labels:
        text(xx, yy, s, size=14, family=LATO, color="#333")

f_labels = [("STAT3_SCI7D",315.5,1282),("STAT3_Sham",314,1302.7),("CTR1",315,1324),("CTR2",315,1345),("CTR3",315,1364),("7D1",318,1387),("7D2",318,1406),("7D3",318,1428.7),("Refseq genes",315.5,1461)]
f_base = [1334.7,1355,1375.3,1395.7,1416.3,1436.7]
f_range = [44982.9, 45119.2]
igv_frame(1206.7, 1509, f_bands_l, f_bands_r, f_blabels_l, f_blabels_r, "136 kb", f_base, f_labels, "[0 - 300]")
g_labels = [("STAT3_SCI7D",315.5,1602.5),("STAT3_Sham",316,1622.7),("CTR1",315,1642.5),("CTR2",315,1664),("CTR3",315,1684),("7D1",319,1705),("7D2",319,1725),("7D3",319,1746.5),("Refseq genes",315.5,1773)]
g_base = [1654,1674.7,1695,1715.3,1736,1756.7]
g_range = [6524935, 6529436]
igv_frame(1526, 1796, g_bands_l, g_bands_r, g_blabels_l, g_blabels_r, "4,495 bp", g_base, g_labels, "[0 - 70]")

def igv_tracks(rng, ticks, ticklabels, ruler_y, baselines, edges, tracks, row_range):
    _n[0] += 1
    xn = _n[0]
    xid = f"x{xn}"
    layout[f"xaxis{xn}"] = dict(domain=[379.6/W, 1242/W], range=rng, anchor="free", position=1-ruler_y/H, side="top", automargin=False,
        tickvals=ticks, ticktext=ticklabels, ticks="outside", ticklen=5, tickcolor="#555", showline=True, linecolor="#555", linewidth=1.6,
        showgrid=False, zeroline=False, tickangle=0, tickfont=dict(size=6, family=ARIAL, color="#333"))
    for i, nm in enumerate(track_names):
        _n[0] += 1
        yn = _n[0]
        layout[f"yaxis{yn}"] = dict(domain=[1-baselines[i]/H, 1-(baselines[i]-20)/H], range=[-1.2, 60], anchor=xid, visible=True, showticklabels=False, automargin=False,
                                    ticks="", showgrid=False, zeroline=True, zerolinecolor=track_zero[i], zerolinewidth=1.6, showline=False)
        h = tracks[nm] + [0]
        traces.append(go.Scatter(x=edges, y=h, mode="lines", line=dict(color=track_fill[i], width=0.5, shape="hv"), fill="tozeroy", fillcolor=track_fill[i],
                                 xaxis=xid, yaxis=f"y{yn}", hoverinfo="skip"))
    _n[0] += 1
    yn = _n[0]
    layout[f"yaxis{yn}"] = dict(domain=[1-row_range[1]/H, 1-row_range[0]/H], range=[row_range[1], row_range[0]], anchor=xid, showticklabels=False, ticks="", showgrid=False, zeroline=False, automargin=False)
    return xid, f"y{yn}"

def gene_model(xid, yid, istart, iend, irow, estart, eend, erow, eh, mx, my):
    xs, ys = [], []
    for a, b, r in zip(istart, iend, irow):
        xs += [a, b, None]; ys += [r, r, None]
    traces.append(go.Scatter(x=xs, y=ys, mode="lines", line=dict(color="#4848d8", width=1.1), xaxis=xid, yaxis=yid, hoverinfo="skip"))
    for hh in sorted(set(eh)):
        xs, ys = [], []
        for a, b, r, h in zip(estart, eend, erow, eh):
            if h == hh:
                xs += [a, b, None]; ys += [r, r, None]
        traces.append(go.Scatter(x=xs, y=ys, mode="lines", line=dict(color="#0a1fa8", width=hh), xaxis=xid, yaxis=yid, hoverinfo="skip"))
    traces.append(go.Scatter(x=mx, y=my, mode="markers", marker=dict(symbol="triangle-left-open", size=3.5, color="#4848d8", line=dict(color="#4848d8", width=0.8)), xaxis=xid, yaxis=yid, hoverinfo="skip"))

fx_id, fy_id = igv_tracks(f_range, f_ticks, f_ticklabels, 1266.7, f_base, f_edges, f_tracks, (1272, 1509))
traces.append(go.Scatter(x=f_stat3_kb, y=f_stat3_row, mode="markers", marker=dict(symbol="line-ns", size=5, line=dict(color="#333", width=1.2)), xaxis=fx_id, yaxis=fy_id, hoverinfo="skip"))
gene_model(fx_id, fy_id, f_intron_start, f_intron_end, f_intron_row, f_exon_start, f_exon_end, f_exon_row, f_exon_h,
           f_marks + f_marks, [1452.3]*len(f_marks) + [1472.3]*len(f_marks))
for s, xx, yy in [("Zeb2",821,1462),("Zeb2",821,1484),("Zeb2os",1205,1483),("Zeb2os",1206,1501)]:
    text(xx, yy, s, size=15, family=LATO, color="#333")

gx_id, gy_id = igv_tracks(g_range, g_ticks, g_ticklabels, 1586.5, g_base, g_edges, g_tracks, (1592, 1796))
traces.append(go.Scatter(x=[6527540, 6527704], y=[1599, 1599], mode="lines", line=dict(color="#000", width=5), xaxis=gx_id, yaxis=gy_id, hoverinfo="skip"))
gene_model(gx_id, gy_id, [6525589], [6528764], [1773.3], g_exon_start, g_exon_end, [1773.3]*4, [4.5]*4, g_marks, [1773.3]*len(g_marks))
text(850, 1786.7, "Snhg15", size=15, family=LATO, color="#333")

fig = go.Figure(data=traces)
fig.update_layout(**layout, shapes=shapes, annotations=annos)
fig.write_html("out.html", config=dict(displayModeBar=False), post_script="document.body.style.margin='0';")
